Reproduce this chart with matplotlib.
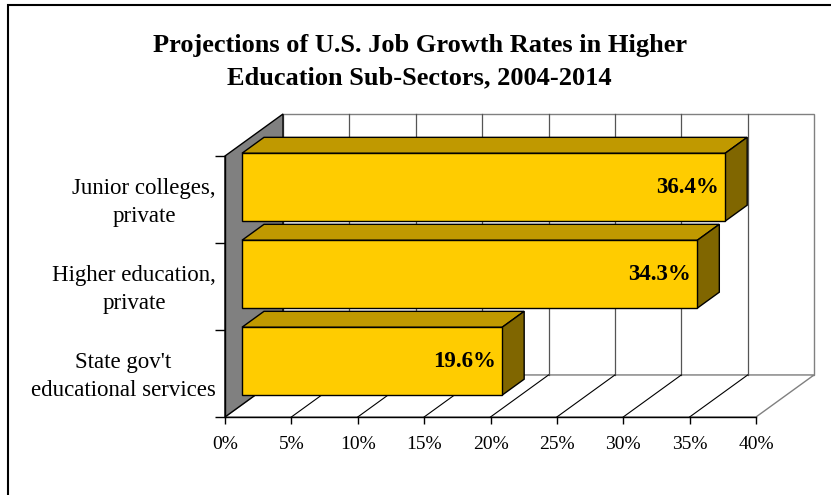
import matplotlib.pyplot as plt
from matplotlib.patches import Polygon, Rectangle

# Projected job growth, bottom category first
categories = ["State gov't\neducational services",
              "Higher education,\nprivate",
              "Junior colleges,\nprivate"]
growth = [19.6, 34.3, 36.4]
x_ticks = [0, 5, 10, 15, 20, 25, 30, 35, 40]
x_labels = [f"{t}%" for t in x_ticks]

plt.rcParams['font.family'] = ['Liberation Serif', 'DejaVu Serif']

FRONT = '#FFCC00'
TOP = '#C09900'
SIDE = '#806600'
WALL = '#808080'

fig = plt.figure(figsize=(8.31, 4.95), dpi=100)
ax = fig.add_axes([225 / 831, 78 / 495, 531 / 831, 261 / 495])
ax.set_facecolor('none')
ax.set_xlim(0, 40)
ax.set_ylim(0, 3)

# oblique depth offset (data units) for the fake 3-D box
DX, DY = 4.37, 0.483


def p(x, y, d):
    return (x + d * DX, y + d * DY)


def face(pts, fc, ec='black', lw=1.0, z=1):
    ax.add_patch(Polygon(pts, closed=True, facecolor=fc, edgecolor=ec,
                         linewidth=lw, zorder=z, clip_on=False))


xmax = x_ticks[-1]
ny = len(categories)

# back wall with gridlines
face([p(0, 0, 1), p(xmax, 0, 1), p(xmax, ny, 1), p(0, ny, 1)], 'white', ec=WALL)
for t in x_ticks[1:-1]:
    ax.plot(*zip(p(t, 0, 1), p(t, ny, 1)), color='#555555', lw=0.9,
            clip_on=False, zorder=1.1)

# floor with gridlines
face([p(0, 0, 0), p(xmax, 0, 0), p(xmax, 0, 1), p(0, 0, 1)], 'white', ec=WALL)
for t in x_ticks[1:-1]:
    ax.plot(*zip(p(t, 0, 0), p(t, 0, 1)), color='black', lw=0.8,
            clip_on=False, zorder=1.1)

# left side wall
face([p(0, 0, 0), p(0, ny, 0), p(0, ny, 1), p(0, 0, 1)], WALL, z=1.2)

# bars sit between these depth fractions
d0, d1 = 0.293, 0.672
half = 0.39
for i in range(ny - 1, -1, -1):
    v = growth[i]
    y0, y1 = i + 0.5 - half, i + 0.5 + half
    z = 2 + (ny - i) * 0.1
    face([p(0, y1, d0), p(v, y1, d0), p(v, y1, d1), p(0, y1, d1)], TOP, z=z)
    face([p(v, y0, d0), p(v, y1, d0), p(v, y1, d1), p(v, y0, d1)], SIDE, z=z)
    face([p(0, y0, d0), p(v, y0, d0), p(v, y1, d0), p(0, y1, d0)], FRONT, z=z)
    tx, ty = p(v, i + 0.5, d0)
    ax.text(tx - 0.45, ty, f"{v}%", ha='right', va='center', fontsize=16.5,
            fontweight='bold', zorder=z + 0.05)

# axes: only left and bottom spines
for s in ['top', 'right']:
    ax.spines[s].set_visible(False)
for s in ['left', 'bottom']:
    ax.spines[s].set_linewidth(1.0)
    ax.spines[s].set_zorder(1.5)

ax.set_xticks(x_ticks, x_labels)
ax.tick_params(axis='x', direction='out', length=5, width=1, pad=9,
               labelsize=14)
ax.set_yticks(range(ny + 1), [''] * (ny + 1))
ax.tick_params(axis='y', which='major', direction='out', length=7, width=1)
# category names sit slightly above the band centres
ax.set_yticks([i + 0.53 for i in range(ny)], categories, minor=True)
ax.tick_params(axis='y', which='minor', length=0, pad=6.5, labelsize=16.5)
for lab in ax.get_yticklabels(minor=True):
    lab.set_multialignment('center')
    lab.set_linespacing(1.4)

fig.text(0.505, 1 - 61.5 / 495,
         "Projections of U.S. Job Growth Rates in Higher\n"
         "Education Sub-Sectors, 2004-2014",
         ha='center', va='center', fontsize=19, fontweight='bold',
         linespacing=1.5)

# outer chart border
fig.patches.append(Rectangle((7.5 / 831, -0.1), 1.2, 1.1 - 5.5 / 495,
                             transform=fig.transFigure, fill=False,
                             edgecolor='black', linewidth=1.5))

fig.savefig('out.png', dpi=100)
